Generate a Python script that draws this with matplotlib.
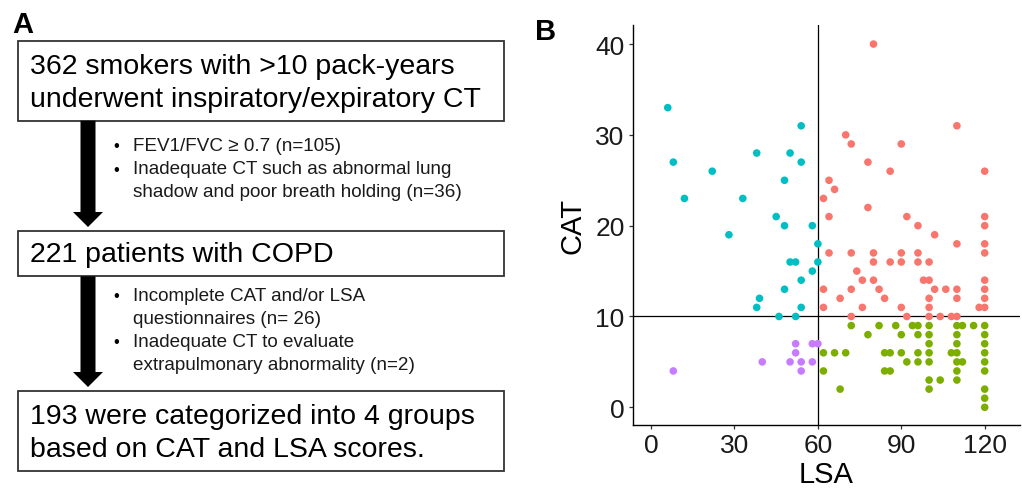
import matplotlib.pyplot as plt
from matplotlib.patches import Rectangle, Polygon

# ---- datos del panel B (LSA, CAT) por grupo ----
red_lsa = [80, 110, 70, 72, 90, 78, 86, 120, 64, 66, 62, 78, 64, 92, 120, 96, 120, 102, 110, 120,
           64, 72, 80, 90, 96, 120, 80, 86, 90, 96, 100, 74, 76, 80, 98, 100, 120, 62, 72, 82,
           102, 106, 110, 120, 68, 84, 100, 110, 120, 62, 76, 90, 100, 118, 120, 72, 92, 100, 104, 108, 110]
red_cat = [40, 31, 30, 29, 29, 27, 26, 26, 25, 24, 23, 22, 21, 21, 21, 20, 20, 19, 18, 18,
           17, 17, 17, 17, 17, 17, 16, 16, 16, 16, 16, 15, 14, 14, 14, 14, 14, 13, 13, 13,
           13, 13, 13, 13, 12, 12, 12, 12, 12, 11, 11, 11, 11, 11, 11, 10, 10, 10, 10, 10, 10]

cyan_lsa = [6, 54, 8, 38, 50, 54, 22, 48, 12, 33, 45, 48, 58, 28, 60, 50, 52, 60, 58, 54, 48, 39, 38, 54, 46, 52]
cyan_cat = [33, 31, 27, 28, 28, 27, 26, 25, 23, 23, 21, 20, 20, 19, 18, 16, 16, 16, 15, 14, 13, 12, 11, 11, 10, 10]

purple_lsa = [52, 58, 60, 52, 40, 50, 54, 58, 54, 8]
purple_cat = [7, 7, 7, 6, 5, 5, 5, 5, 4, 4]

green_lsa = [72, 82, 88, 94, 96, 100, 110, 112, 116, 120,
             78, 90, 96, 100, 110, 120,
             100, 110, 120,
             62, 66, 70, 84, 86, 90, 96, 100, 108, 110, 120,
             92, 96, 100, 110, 112, 120,
             62, 84, 86, 110, 120,
             100, 104, 110,
             68, 100, 120,
             120, 120]
green_cat = [9] * 10 + [8] * 6 + [7] * 3 + [6] * 11 + [5] * 6 + [4] * 5 + [3] * 3 + [2] * 3 + [1, 0]

x_ticks = [0, 30, 60, 90, 120]
y_ticks = [0, 10, 20, 30, 40]

# ---- textos del panel A ----
box1_lines = ["362 smokers with >10 pack-years", "underwent inspiratory/expiratory CT"]
excl1_lines = ["FEV1/FVC \u2265 0.7 (n=105)", "Inadequate CT such as abnormal lung",
               "shadow and poor breath holding (n=36)"]
box2_lines = ["221 patients with COPD"]
excl2_lines = ["Incomplete CAT and/or LSA", "questionnaires (n= 26)",
               "Inadequate CT to evaluate", "extrapulmonary abnormality (n=2)"]
box3_lines = ["193 were categorized into 4 groups", "based on CAT and LSA scores."]

W, H = 1022, 489
fig = plt.figure(figsize=(W / 100, H / 100), dpi=100)
fuente = "Liberation Sans"

# panel A en coordenadas de pixel
axA = fig.add_axes([0, 0, 1, 1])
axA.set_xlim(0, W)
axA.set_ylim(H, 0)
axA.axis("off")

def caja(y0, y1):
    axA.add_patch(Rectangle((18, y0), 486, y1 - y0, fill=False, edgecolor="#333333", lw=1.3))

def flecha(y0, y1):
    axA.add_patch(Polygon([(80.5, y0), (95.5, y0), (95.5, y1 - 15), (103, y1 - 15),
                           (88, y1), (73, y1 - 15), (80.5, y1 - 15)],
                          closed=True, facecolor="black", edgecolor="none"))

caja(41.7, 121.7)
caja(231.7, 277.3)
caja(391.7, 472.3)
flecha(121.7, 228)
flecha(277.3, 388)

fs_big = 20.5
for i, t in enumerate(box1_lines):
    axA.text(30.5, 66.7 + i * 33.5, t, fontsize=fs_big, family=fuente, va="center", ha="left")
for t in box2_lines:
    axA.text(30.5, 255, t, fontsize=fs_big, family=fuente, va="center", ha="left")
for i, t in enumerate(box3_lines):
    axA.text(30.5, 416.7 + i * 33.5, t, fontsize=fs_big, family=fuente, va="center", ha="left")

fs_small = 13.6
y_ex1 = [146.7, 170, 192.7]
bul1 = [True, True, False]
for t, y, b in zip(excl1_lines, y_ex1, bul1):
    if b:
        axA.text(113, y, "\u2022", fontsize=12, family=fuente, va="center", ha="left")
    axA.text(133.3, y, t, fontsize=fs_small, family=fuente, va="center", ha="left", color="#1A1A1A")

y_ex2 = [296.7, 319.3, 342.7, 365.7]
bul2 = [True, False, True, False]
for t, y, b in zip(excl2_lines, y_ex2, bul2):
    if b:
        axA.text(113, y, "\u2022", fontsize=12, family=fuente, va="center", ha="left")
    axA.text(133.3, y, t, fontsize=fs_small, family=fuente, va="center", ha="left", color="#1A1A1A")

axA.text(12, 25, "A", fontsize=21, fontweight="bold", family=fuente, va="center", ha="left")
axA.text(535, 32, "B", fontsize=21, fontweight="bold", family=fuente, va="center", ha="left")

# panel B: dispersion
ax = fig.add_axes([633 / W, 1 - 426 / H, (1020 - 633) / W, (426 - 26) / H])
ax.scatter(red_lsa, red_cat, s=30, color="#F8766D", edgecolors="none", zorder=3)
ax.scatter(green_lsa, green_cat, s=30, color="#7CAE00", edgecolors="none", zorder=3)
ax.scatter(cyan_lsa, cyan_cat, s=30, color="#00BFC4", edgecolors="none", zorder=3)
ax.scatter(purple_lsa, purple_cat, s=30, color="#C77CFF", edgecolors="none", zorder=3)
ax.axvline(60, color="black", lw=0.9, zorder=2)
ax.axhline(10, color="black", lw=0.9, zorder=2)

ax.set_xlim(-6.5, 132.7)
ax.set_ylim(-1.95, 42.1)
ax.set_xticks(x_ticks)
ax.set_yticks(y_ticks)
for s in ["top", "right"]:
    ax.spines[s].set_visible(False)
for s in ["left", "bottom"]:
    ax.spines[s].set_linewidth(1.0)
    ax.spines[s].set_color("black")
ax.tick_params(length=3, width=0.9, color="#333333", labelcolor="#1A1A1A", labelsize=19, pad=3)
for lab in ax.get_xticklabels() + ax.get_yticklabels():
    lab.set_family(fuente)
ax.set_xlabel("LSA", fontsize=21, family=fuente, labelpad=2)
ax.set_ylabel("CAT", fontsize=21, family=fuente, labelpad=6)

fig.savefig("out.png", dpi=100)
